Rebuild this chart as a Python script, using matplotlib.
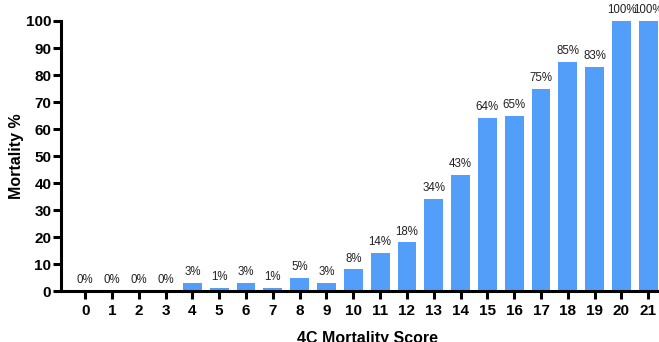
import matplotlib
matplotlib.use("Agg")
import matplotlib.pyplot as plt

scores = list(range(22))
mortality = [0, 0, 0, 0, 3, 1, 3, 1, 5, 3, 8, 14, 18, 34, 43, 64, 65, 75, 85, 83, 100, 100]
y_ticks = [0, 10, 20, 30, 40, 50, 60, 70, 80, 90, 100]

plt.rcParams['font.family'] = ['Liberation Sans', 'DejaVu Sans']

fig = plt.figure(figsize=(6.59, 3.42), dpi=100)
ax = fig.add_axes([0.0926, 0.149, 0.9074, 0.7896])

ax.bar(scores, mortality, width=0.7, color='#529EF9', zorder=2)
for x, v in zip(scores, mortality):
    ax.text(x, v + 1.8, f"{v}%", ha='center', va='bottom', fontsize=8.3, color='#222222')

ax.set_xlim(-0.9, 21.4)
ax.set_ylim(0, 100)
ax.set_xticks(scores)
ax.set_xticklabels([str(s) for s in scores])
ax.set_yticks(y_ticks)
ax.set_yticklabels([str(t) for t in y_ticks])

for side in ('top', 'right'):
    ax.spines[side].set_visible(False)
for side in ('left', 'bottom'):
    ax.spines[side].set_linewidth(2.2)

ax.tick_params(axis='both', width=2.2, length=6, labelsize=11)
ax.tick_params(axis='y', pad=1)
ax.tick_params(axis='x', pad=3)
for lbl in ax.get_xticklabels() + ax.get_yticklabels():
    lbl.set_fontweight('bold')

ax.set_ylabel('Mortality %', fontsize=11.5, fontweight='bold')
ax.yaxis.set_label_coords(-0.062, 0.5)
ax.set_xlabel('4C Mortality Score', fontsize=11.5, fontweight='bold')
ax.xaxis.set_label_coords(0.512, -0.148)

fig.savefig('out.png', dpi=100)
